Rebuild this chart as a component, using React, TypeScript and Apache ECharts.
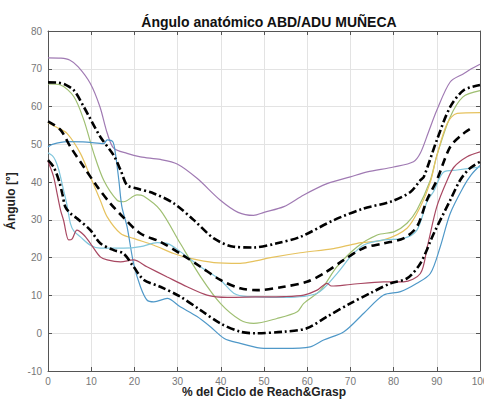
import React, { useEffect, useRef } from "react";
import * as echarts from "echarts";

const titleText = "Ángulo anatómico ABD/ADU MUÑECA";
const xName = "% del Ciclo de Reach&Grasp";
const yName = "Ángulo [°]";

const purple = [[0,72.9],[3,72.8],[5,72.3],[7,70.5],[9.8,66.1],[12,60],[13.7,53],[15.2,49],[18.3,47.6],[21.4,46.7],[26,46],[29.9,44.8],[34.5,41],[39.9,35.2],[44,32],[47.6,31.2],[50,32],[54.6,33.5],[59.2,36.6],[64.6,39.6],[70,41.4],[73.9,42.7],[80,44],[84.6,45.4],[86.2,47.7],[88,53],[90,59],[93.1,66.5],[96.2,68.7],[98,70],[100,71.2]];
const meanPlusSd = [[0,66.4],[2.4,66.3],[4,65.8],[6,64.3],[8.3,59.9],[12.1,52],[15.2,47.1],[16.8,43.2],[18.3,39.2],[20.6,38.3],[24.5,37],[29.1,34.4],[33.7,30],[38.4,25.1],[43,22.9],[47.6,22.7],[53,23.8],[58.4,25.5],[66.1,29.9],[73,33],[79.3,34.8],[83.9,37.4],[86.2,40.5],[87,41.4],[90,51.1],[93.1,59.9],[96.2,64.3],[100,65.7]];
const green = [[0,66],[2.9,65.7],[6,62.6],[8.3,56.4],[10.6,47.6],[12.9,40.5],[16,35.2],[17.5,34.8],[20.6,36.6],[22.1,36.3],[26,32.6],[30.6,23.8],[35.3,15],[39.9,7.9],[44.5,3.5],[47.6,2.6],[53,3.9],[57.7,5.7],[59.2,7.9],[63.1,11.4],[66.9,17.6],[71.6,22.9],[76.2,26],[80.2,26.9],[83.1,29.1],[85.4,32.6],[88.5,40.5],[90,47],[93,57],[96,62.5],[100,64.2]];
const mean = [[0,56.1],[2.9,53.8],[5.2,49.3],[8.3,44],[11.4,38.8],[14.4,34.4],[17.5,30.6],[21.4,26.4],[26,24.2],[30.6,21.1],[35.3,17.6],[39.9,14.1],[44.5,11.9],[48.4,11.4],[54.6,12.3],[59.9,13.6],[63.8,15.8],[68.5,19.4],[73,22.5],[77.7,23.8],[82.3,25.1],[85.4,28.2],[87.7,35.2],[90,40.5],[93.1,49.3],[96.2,52.9],[98.5,54.6]];
const yellow = [[0,55.7],[2,54.5],[4.4,52.9],[7.5,47.6],[9.8,41.4],[12.1,35.2],[13.7,30.8],[16.8,26.4],[19.8,25.1],[24.5,23.3],[29.1,21.1],[33,19.8],[38.4,18.7],[44.5,18.5],[48.4,19.2],[51.5,20],[58.4,21.3],[66.1,22.4],[71.6,23.8],[77.7,24.7],[83.1,27.8],[86.2,33.5],[88.5,40],[90,47],[92.4,55.5],[94.7,58.2],[100,58.4]];
const blue = [[0,49.3],[1,50],[4.4,50.7],[9,50.6],[12.9,50.2],[13.7,51.2],[15,50.7],[15.6,47.6],[16.4,40.5],[17.1,33.5],[18.3,28.2],[19.8,18.5],[21.4,12.3],[22.9,8.8],[24.5,8.3],[27.6,9.2],[30.6,7],[34.5,4.4],[37.6,1.7],[40.8,-1.4],[44.5,-2.7],[48.4,-3.8],[50,-4],[54.6,-4],[60.7,-3.6],[63.8,-1.8],[68.5,0.4],[73.1,5.3],[77.7,10.1],[81.6,11],[85.4,13.2],[88.5,15.8],[90.8,22.9],[93.1,31.7],[96.2,38.8],[98,42],[100,44.4]];
const cyan = [[0,47.8],[1,47],[1.7,45.8],[2.5,43.2],[3.6,37.9],[4.4,33.9],[5.2,29],[6,27],[7.5,25.5],[9.8,23.3],[12.1,22.5],[17.5,22.5],[21.4,22.9],[25.3,24],[27.6,23.8],[30.6,21.6],[35.3,17.6],[39.9,14.1],[43,10.6],[46.1,9.7],[54.6,9.5],[62.3,10.6],[66.9,15.8],[70,20.2],[73,23.3],[77.7,24.7],[82.3,25.1],[85.4,27.3],[87.8,35],[89.3,37.6],[91.6,42.7],[94.7,43.2],[100,44]];
const red = [[0,45.5],[1.3,41.4],[2.1,37],[2.9,32.6],[3.6,29.9],[4.8,24.7],[5.6,25],[6.7,27.3],[8.3,26],[9.8,23.8],[12.1,20.2],[13.7,19.4],[16.8,18.9],[19.8,19.4],[22.9,17.6],[27.6,14.9],[32.2,12.3],[36.8,10.1],[41.5,9.5],[48,9.6],[54.6,9.7],[59.2,10.1],[62.3,11.4],[64.6,13.2],[65.6,12.5],[70,12.9],[77.7,13.6],[82.3,13.6],[86.2,15.8],[87.8,22.9],[90,33.5],[92.4,40.5],[94,44],[97,46.7],[100,48]];
const meanMinusSd = [[0,45.8],[1.3,44],[2.5,40.5],[3.3,37],[4,33.5],[5.2,31.7],[6.7,30.4],[9.8,27.3],[12.1,23.8],[15.2,22],[17.5,21.1],[19.8,17.6],[22.2,14.1],[26,12.3],[30.6,9.7],[35.3,6.1],[39.9,2.6],[44.5,0.4],[48,0],[54.6,0.4],[59.9,1.3],[64.6,4.4],[70,7.9],[74.6,10.6],[79.3,13.2],[83.1,14.5],[86.2,18.5],[89.3,26.4],[93.1,35.2],[95.4,40.5],[97.5,43.5],[100,45.4]];

const FONT = "'Liberation Sans', Arial, sans-serif";

export default function App() {
  const ref = useRef<HTMLDivElement>(null);
  useEffect(() => {
    document.body.style.margin = "0";
    const chart = echarts.init(ref.current!, null, { renderer: "svg" });
    const thin = (name: string, data: number[][], color: string) => ({
      name, type: "line", data, showSymbol: false, smooth: 0.3, z: 2,
      lineStyle: { color, width: 1.2 },
    });
    const black = (name: string, data: number[][], dash: number[]) => ({
      name, type: "line", data, showSymbol: false, smooth: 0.3, z: 5,
      lineStyle: { color: "#000", width: 2.6, type: dash },
    });
    const axisBase = {
      type: "value",
      axisLine: { show: true, onZero: false, lineStyle: { color: "#555", width: 1 } },
      axisTick: { show: true, inside: true, length: 4, lineStyle: { color: "#555" } },
    };
    chart.setOption({
      animation: false,
      backgroundColor: "#fff",
      title: [
        {
          text: titleText, left: 264, top: 10, textAlign: "center",
          textStyle: { fontFamily: FONT, fontSize: 14, fontWeight: "bold", color: "#111" },
        },
        {
          text: xName, left: 264, top: 385, textAlign: "center", padding: 0,
          textStyle: { fontFamily: FONT, fontSize: 12, fontWeight: "bold", color: "#222", lineHeight: 14 },
        },
      ],
      grid: { left: 48, right: 4, top: 31, bottom: 30, outerBoundsMode: "none", containLabel: false },
      xAxis: [
        {
          ...axisBase, min: 0, max: 100, interval: 10, position: "bottom",
          axisLabel: { fontFamily: FONT, fontSize: 10, color: "#777", margin: 5 },
          splitLine: { show: true, lineStyle: { color: "#e3e3e3" } },
        },
        {
          ...axisBase, min: 0, max: 100, interval: 10, position: "top",
          axisLabel: { show: false }, splitLine: { show: false },
        },
      ],
      yAxis: [
        {
          ...axisBase, min: -10, max: 80, interval: 10, position: "left",
          name: yName, nameLocation: "middle", nameGap: 22, nameRotate: 90,
          nameTextStyle: { fontFamily: FONT, fontSize: 12, fontWeight: "bold", color: "#222" },
          axisLabel: { fontFamily: FONT, fontSize: 10, color: "#777", margin: 6 },
          splitLine: { show: true, lineStyle: { color: "#e3e3e3" } },
        },
        {
          ...axisBase, min: -10, max: 80, interval: 10, position: "right",
          axisLabel: { show: false }, splitLine: { show: false },
        },
      ],
      series: [
        thin("purple", purple, "#a07ab3"),
        thin("green", green, "#9fbf72"),
        thin("yellow", yellow, "#e6c25e"),
        thin("blue", blue, "#4f98c8"),
        thin("cyan", cyan, "#80c6dc"),
        thin("red", red, "#a84862"),
        black("mean+sd", meanPlusSd, [8, 3, 2, 3]),
        black("mean", mean, [8, 5]),
        black("mean-sd", meanMinusSd, [8, 3, 2, 3]),
      ],
    });
    return () => chart.dispose();
  }, []);
  return <div ref={ref} style={{ width: 484, height: 401 }} />;
}
